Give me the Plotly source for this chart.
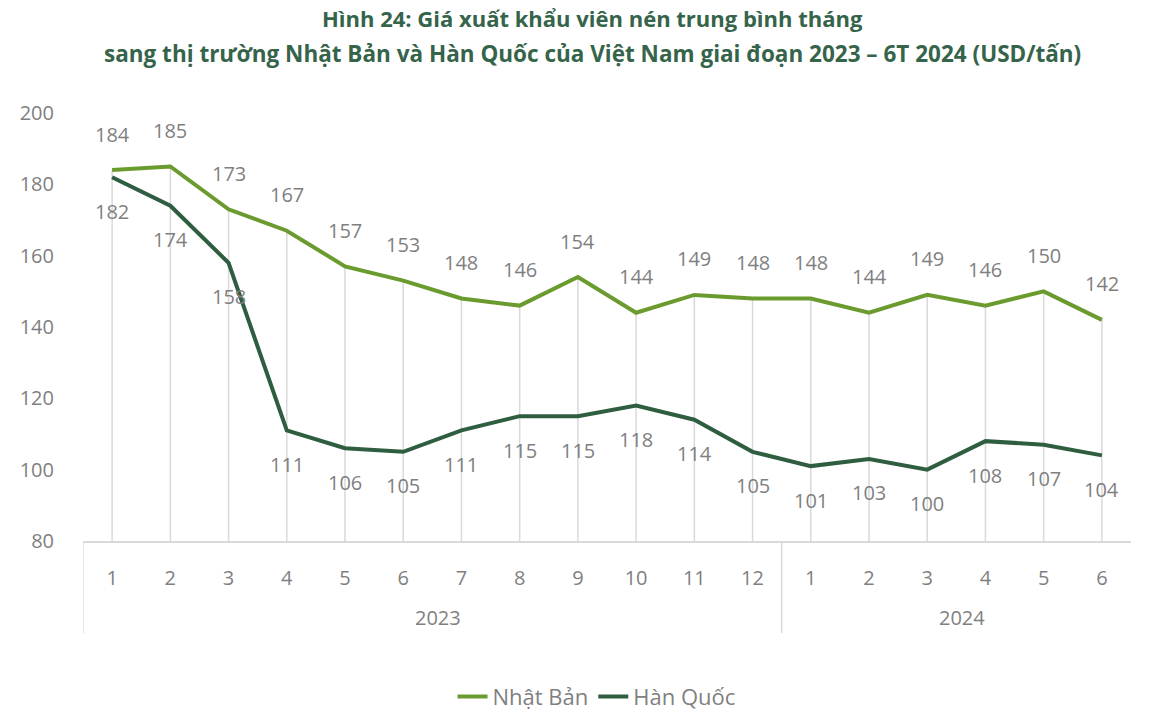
import plotly.graph_objects as go

months = ["1", "2", "3", "4", "5", "6", "7", "8", "9", "10", "11", "12",
          "1", "2", "3", "4", "5", "6"]
years = ["2023", "2024"]
year_counts = [12, 6]
nhat_ban = [184, 185, 173, 167, 157, 153, 148, 146, 154, 144, 149, 148,
            148, 144, 149, 146, 150, 142]
han_quoc = [182, 174, 158, 111, 106, 105, 111, 115, 115, 118, 114, 105,
            101, 103, 100, 108, 107, 104]
title_lines = ["Hình 24: Giá xuất khẩu viên nén trung bình tháng",
               "sang thị trường Nhật Bản và Hàn Quốc của Việt Nam giai đoạn 2023 – 6T 2024 (USD/tấn)"]
y_min, y_max = 80, 200

x = list(range(len(months)))
C_NB = "#6B9B2E"
C_HQ = "#2F5D40"
GRAY = "#7F7F7F"
GRID = "#D9D9D9"
FONT = "Open Sans"

fig = go.Figure()

# drop lines from the highest series value down to the axis
dx, dy = [], []
for i in x:
    dx += [i, i, None]
    dy += [max(nhat_ban[i], han_quoc[i]), y_min, None]
fig.add_trace(go.Scatter(x=dx, y=dy, mode="lines", line=dict(color=GRID, width=1.5),
                         showlegend=False, hoverinfo="skip"))

fig.add_trace(go.Scatter(x=x, y=nhat_ban, mode="lines", name="Nhật Bản",
                         line=dict(color=C_NB, width=4)))
fig.add_trace(go.Scatter(x=x, y=han_quoc, mode="lines", name="Hàn Quốc",
                         line=dict(color=C_HQ, width=4)))

ann = []
for i, v in enumerate(nhat_ban):
    ann.append(dict(x=i, y=v, text=str(v), showarrow=False, yshift=36,
                    font=dict(family=FONT, size=20, color=GRAY)))
for i, v in enumerate(han_quoc):
    ann.append(dict(x=i, y=v, text=str(v), showarrow=False, yshift=-34,
                    font=dict(family=FONT, size=20, color=GRAY)))

# year labels and dividers
start = 0
shapes = []
for yr, n in zip(years, year_counts):
    ann.append(dict(x=start + (n - 1) / 2 + 0.1, y=-0.178, xref="x", yref="paper",
                    yanchor="middle", text=yr, showarrow=False,
                    font=dict(family=FONT, size=20, color=GRAY)))
    shapes.append(dict(type="line", xref="x", yref="paper",
                       x0=start - 0.5, x1=start - 0.5, y0=0, y1=-0.215,
                       line=dict(color=GRID, width=1.5)))
    start += n

# title
ann.append(dict(x=0.486, y=1.222, xref="paper", yref="paper", yanchor="middle",
                text="<b>" + title_lines[0] + "</b>",
                showarrow=False, font=dict(family=FONT, size=22, color="#35644A")))
ann.append(dict(x=0.486, y=1.140, xref="paper", yref="paper", yanchor="middle",
                text="<b>" + title_lines[1] + "</b>",
                showarrow=False, font=dict(family=FONT, size=22.5, color="#35644A")))

fig.update_layout(
    width=1153, height=711,
    margin=dict(l=83, r=22, t=113, b=170, autoexpand=False),
    paper_bgcolor="white", plot_bgcolor="white",
    showlegend=True,
    legend=dict(orientation="h", x=0.49, xanchor="center", y=-0.364, yanchor="middle",
                font=dict(family=FONT, size=22, color=GRAY)),
    annotations=ann,
    shapes=shapes,
    xaxis=dict(range=[-0.5, len(months) - 0.5], tickmode="array", tickvals=x, ticktext=months,
               showgrid=False, automargin=False,
               showline=True, linecolor=GRID, linewidth=1.5,
               ticks="", ticklabelstandoff=18, zeroline=False,
               tickfont=dict(family=FONT, size=20, color=GRAY)),
    yaxis=dict(range=[y_min, y_max], tickvals=[80, 100, 120, 140, 160, 180, 200],
               showgrid=False, zeroline=False, showline=False, ticks="", automargin=False,
               ticklabelstandoff=28,
               tickfont=dict(family=FONT, size=20, color=GRAY)),
)

fig.write_html("out.html", config={"displayModeBar": False},
               post_script="document.body.style.margin='0';")
